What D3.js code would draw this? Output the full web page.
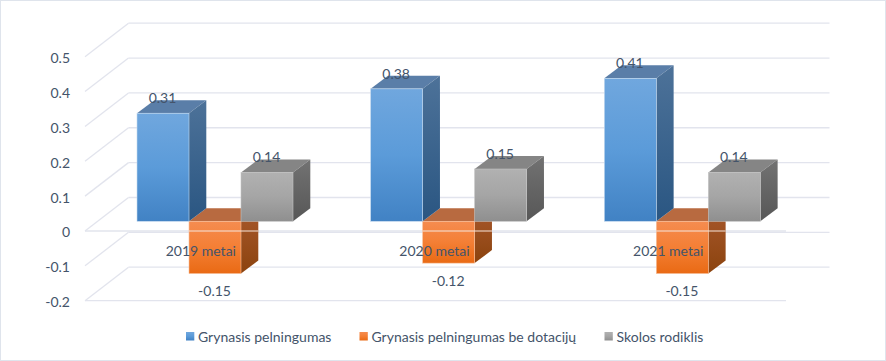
<!DOCTYPE html>
<html><head><meta charset="utf-8">
<script src="https://cdn.jsdelivr.net/npm/d3@7"></script>
<style>html,body{margin:0;padding:0;background:#fff;overflow:hidden}svg{display:block}text{font-family:Lato,Carlito,sans-serif}</style>
</head><body><div id="chart"></div>
<script>
const categories = ["2019 metai","2020 metai","2021 metai"];
const seriesNames = ["Grynasis pelningumas","Grynasis pelningumas be dotacijų","Skolos rodiklis"];
const pelningumas = [0.31,0.38,0.41];
const beDotaciju = [-0.15,-0.12,-0.15];
const skolos = [0.14,0.15,0.14];
const yTicks = [-0.2,-0.1,0,0.1,0.2,0.3,0.4,0.5];
const seriesValues = [pelningumas,beDotaciju,skolos];
const palettes = [
 {id:"blue",front:["#70a7de","#5b9bd9","#4182c4"],side:["#4d7299","#2a5682"],top:"#5a7ea8",edge:"#c3d9ef"},
 {id:"orange",front:["#f58c50","#f47f35","#e96a14"],side:["#a8582c","#8b430e"],top:"#b86a40",edge:"#f7c09c"},
 {id:"grey",front:["#b1b1b1","#a5a5a5","#8f8f8f"],side:["#727272","#575757"],top:"#858585",edge:"#c4c4c4"}
];
const W=886,H=361;
const svg=d3.select("#chart").append("svg").attr("width",W).attr("height",H);
const defs=svg.append("defs");
palettes.forEach(p=>{
  const f=defs.append("linearGradient").attr("id",p.id+"F").attr("x1",0).attr("y1",0).attr("x2",0).attr("y2",1);
  p.front.forEach((c,i)=>f.append("stop").attr("offset",i/2).attr("stop-color",c));
  const s=defs.append("linearGradient").attr("id",p.id+"S").attr("x1",0).attr("y1",0).attr("x2",0).attr("y2",1);
  p.side.forEach((c,i)=>s.append("stop").attr("offset",i).attr("stop-color",c));
});
svg.append("rect").attr("x",.5).attr("y",.5).attr("width",W-1).attr("height",H-1).attr("fill","#fff").attr("stroke","#dfe4ec");

const y=d3.scaleLinear().domain([-0.2,0.5]).range([300.7,56.7]);
const x0=d3.scaleBand().domain(categories).range([85,786]);
const x1=d3.scaleBand().domain(d3.range(3)).range([39,195]);
const wall={dx:43.5,dy:-33.5}, barFront={dx:13,dy:-9.7}, depth={dx:17.3,dy:-13};
const ink="#44546a", grid="#e2e4ed", fs="14px";
const bandEnd=x0.range()[1], bandStart=x0.range()[0];

const gGrid=svg.append("g").attr("fill","none").attr("stroke",grid).attr("stroke-width",1.3);
gGrid.selectAll(".back").data(yTicks).join("line")
 .attr("x1",bandStart+wall.dx).attr("x2",bandEnd+wall.dx)
 .attr("y1",d=>y(d)+wall.dy).attr("y2",d=>y(d)+wall.dy);
gGrid.selectAll(".diag").data(yTicks).join("line")
 .attr("x1",bandStart).attr("x2",bandStart+wall.dx)
 .attr("y1",d=>y(d)).attr("y2",d=>y(d)+wall.dy);
gGrid.selectAll(".front").data([-0.2,0]).join("line")
 .attr("x1",bandStart).attr("x2",bandEnd)
 .attr("y1",d=>y(d)).attr("y2",d=>y(d));

const axis=d3.axisLeft(y).tickValues(yTicks).tickSize(0).tickPadding(0)
 .tickFormat(d=>d===0?"0":d.toFixed(1));
const gAxis=svg.append("g").attr("transform","translate(70,1.5)").call(axis);
gAxis.select(".domain").remove();
gAxis.selectAll("text").attr("fill",ink).style("font-size",fs).style("font-family","Lato,Carlito,sans-serif");

function box(g,bx,bw,v,p){
  const y0=y(0)+barFront.dy, yv=y(v)+barFront.dy;
  const top=Math.min(y0,yv), bot=Math.max(y0,yv);
  const dx=depth.dx, dy=depth.dy;
  const poly=pts=>pts.map(a=>a.join(",")).join(" ");
  g.append("polygon").attr("points",poly([[bx,top],[bx+dx,top+dy],[bx+bw+dx,top+dy],[bx+bw,top]])).attr("fill",p.top);
  g.append("polygon").attr("points",poly([[bx+bw,top],[bx+bw+dx,top+dy],[bx+bw+dx,bot+dy],[bx+bw,bot]])).attr("fill",`url(#${p.id}S)`);
  g.append("rect").attr("x",bx).attr("y",top).attr("width",bw).attr("height",bot-top).attr("fill",`url(#${p.id}F)`)
   .attr("stroke",p.edge).attr("stroke-width",.6);
}
const order=[1,0,2];
const gBars=svg.append("g");
categories.forEach((c,ci)=>{
  order.forEach(si=>{
    const bx=x0(c)+barFront.dx+x1(si);
    box(gBars.append("g"),bx,x1.bandwidth(),seriesValues[si][ci],palettes[si]);
  });
  const ox=x0(c)+barFront.dx+x1(1);
  const ob=x1.bandwidth();
  svg.append("line").attr("x1",ox).attr("x2",ox+ob+depth.dx)
   .attr("y1",y(0)).attr("y2",y(0)).attr("stroke","#f6e6dc").attr("stroke-width",1.2);
});

const gLab=svg.append("g").attr("fill",ink).attr("text-anchor","middle").style("font-size",fs);
categories.forEach((c,ci)=>{
  seriesValues.forEach((vals,si)=>{
    const v=vals[ci];
    const cx=x0(c)+barFront.dx+x1(si)+x1.bandwidth()/2;
    const yy=y(v)+barFront.dy+(v>=0?-15:18);
    gLab.append("text").attr("x",cx-0.5).attr("y",yy).attr("dy","0.35em").text(v.toFixed(2));
  });
  gLab.append("text").attr("x",x0(c)+barFront.dx+x0.bandwidth()/2-14).attr("y",251.5).attr("dy","0.35em").text(c);
});

const legendX=[186,359.5,604.5];
const gLeg=svg.append("g");
seriesNames.forEach((n,i)=>{
  gLeg.append("rect").attr("x",legendX[i]).attr("y",332).attr("width",8.3).attr("height",8.5).attr("fill",`url(#${palettes[i].id}F)`);
  gLeg.append("text").attr("x",legendX[i]+12).attr("y",336.8).attr("dy","0.35em").attr("fill",ink)
   .style("font-size",fs).text(n);
});
</script></body></html>
